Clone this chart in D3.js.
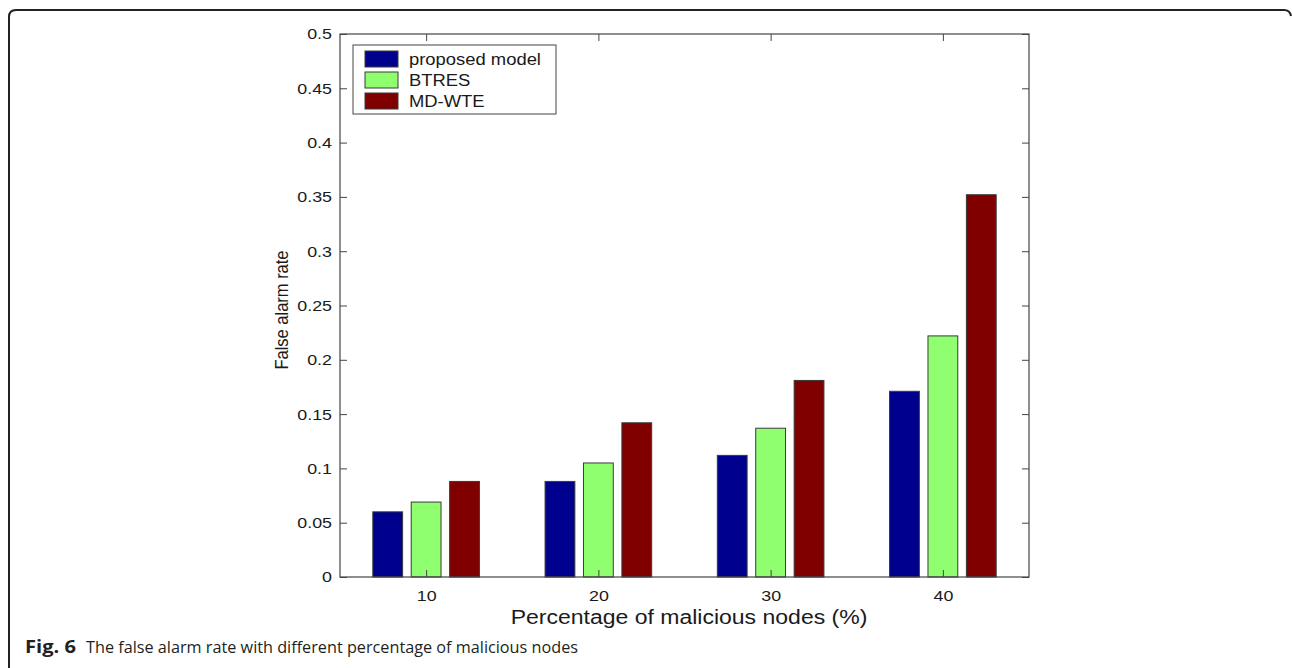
<!DOCTYPE html>
<html><head><meta charset="utf-8">
<script src="https://cdn.jsdelivr.net/npm/d3@7"></script>
<style>body{margin:0;background:#fff;}svg{display:block;}</style>
</head><body><svg id="c" width="1292" height="668"></svg>
<script>
const categories = [10, 20, 30, 40];
const seriesNames = ["proposed model", "BTRES", "MD-WTE"];
const proposedModel = [0.060, 0.088, 0.112, 0.171];
const btres = [0.069, 0.105, 0.137, 0.222];
const mdWte = [0.088, 0.142, 0.181, 0.352];
const yTicks = [0, 0.05, 0.1, 0.15, 0.2, 0.25, 0.3, 0.35, 0.4, 0.45, 0.5];
const colors = ["#00008f", "#8fff70", "#800000"];
const series = [proposedModel, btres, mdWte];

const svg = d3.select("#c");
const L = 340, R = 1029, T = 34, B = 577;
const x = d3.scaleLinear().domain([5, 45]).range([L, R]);
const y = d3.scaleLinear().domain([0, 0.5]).range([B, T]);
const font = "'Liberation Sans', Arial, sans-serif";
const stretch = 1.15;
function widen(sel) {
  sel.each(function () {
    const w = this.getComputedTextLength();
    d3.select(this).attr("textLength", w * stretch).attr("lengthAdjust", "spacingAndGlyphs");
  });
}

// outer border
svg.append("path")
  .attr("d", "M9,668 L9,17 Q9,10 16,10 L1284,10 Q1290,10 1291,16")
  .attr("fill", "none").attr("stroke", "#222").attr("stroke-width", 2);

// bars
const step = 2.23, bw = 1.73;
series.forEach((s, si) => {
  svg.append("g").selectAll("rect").data(s).enter().append("rect")
    .attr("x", (d, i) => x(categories[i] + (si - 1) * step - bw / 2))
    .attr("width", x(bw) - x(0))
    .attr("y", d => y(d))
    .attr("height", d => y(0) - y(d))
    .attr("fill", colors[si]).attr("stroke", "#3a3a3a").attr("stroke-width", 1);
});

// box
svg.append("rect").attr("x", L).attr("y", T).attr("width", R - L).attr("height", B - T)
  .attr("fill", "none").attr("stroke", "#444").attr("stroke-width", 1.2);

// axes
const axL = d3.axisLeft(y).tickValues(yTicks).tickSize(-7).tickPadding(8).tickFormat(d => String(+d.toFixed(2)));
const gL = svg.append("g").attr("transform", `translate(${L},0)`).call(axL);
const gR = svg.append("g").attr("transform", `translate(${R},0)`).call(d3.axisRight(y).tickValues(yTicks).tickSize(-7).tickFormat(""));
const axB = d3.axisBottom(x).tickValues(categories).tickSize(-7).tickPadding(13);
const gB = svg.append("g").attr("transform", `translate(0,${B})`).call(axB);
const gT = svg.append("g").attr("transform", `translate(0,${T})`).call(d3.axisTop(x).tickValues(categories).tickSize(-7).tickFormat(""));
[gL, gR, gB, gT].forEach(g => {
  g.select(".domain").remove();
  g.selectAll("line").attr("stroke", "#444");
  g.selectAll("text").attr("font-family", font).attr("font-size", 15.5).attr("fill", "#1a1a1a");
});
widen(gL.selectAll("text"));
widen(gB.selectAll("text"));

// axis labels
svg.append("text").attr("transform", "translate(288,310) scale(1.12,1) rotate(-90)")
  .attr("text-anchor", "middle").attr("font-family", font).attr("font-size", 16.5).attr("fill", "#1a1a1a")
  .text("False alarm rate");
const xl = svg.append("text").attr("x", 689).attr("y", 624).attr("text-anchor", "middle")
  .attr("font-family", font).attr("font-size", 20).attr("fill", "#1a1a1a")
  .text("Percentage of malicious nodes (%)");
widen(xl);

// legend
const lg = svg.append("g");
lg.append("rect").attr("x", 353).attr("y", 45).attr("width", 203).attr("height", 69)
  .attr("fill", "#fff").attr("stroke", "#444").attr("stroke-width", 1);
seriesNames.forEach((n, i) => {
  lg.append("rect").attr("x", 365).attr("y", 51 + i * 21).attr("width", 33).attr("height", 16)
    .attr("fill", colors[i]).attr("stroke", "#3a3a3a");
  const t = lg.append("text").attr("x", 409).attr("y", 65 + i * 21).attr("font-family", font).attr("font-size", 16)
    .attr("fill", "#1a1a1a").text(n);
  widen(t);
});

// caption
svg.append("text").attr("x", 25).attr("y", 653).attr("font-family", "'Open Sans', sans-serif")
  .attr("font-size", 17).attr("font-weight", "bold").attr("fill", "#231f20")
  .attr("textLength", 51).attr("lengthAdjust", "spacingAndGlyphs").text("Fig. 6");
svg.append("text").attr("x", 86).attr("y", 653).attr("font-family", "'Open Sans', sans-serif")
  .attr("font-size", 17).attr("fill", "#231f20")
  .attr("textLength", 492).attr("lengthAdjust", "spacingAndGlyphs")
  .text("The false alarm rate with different percentage of malicious nodes");
</script></body></html>
